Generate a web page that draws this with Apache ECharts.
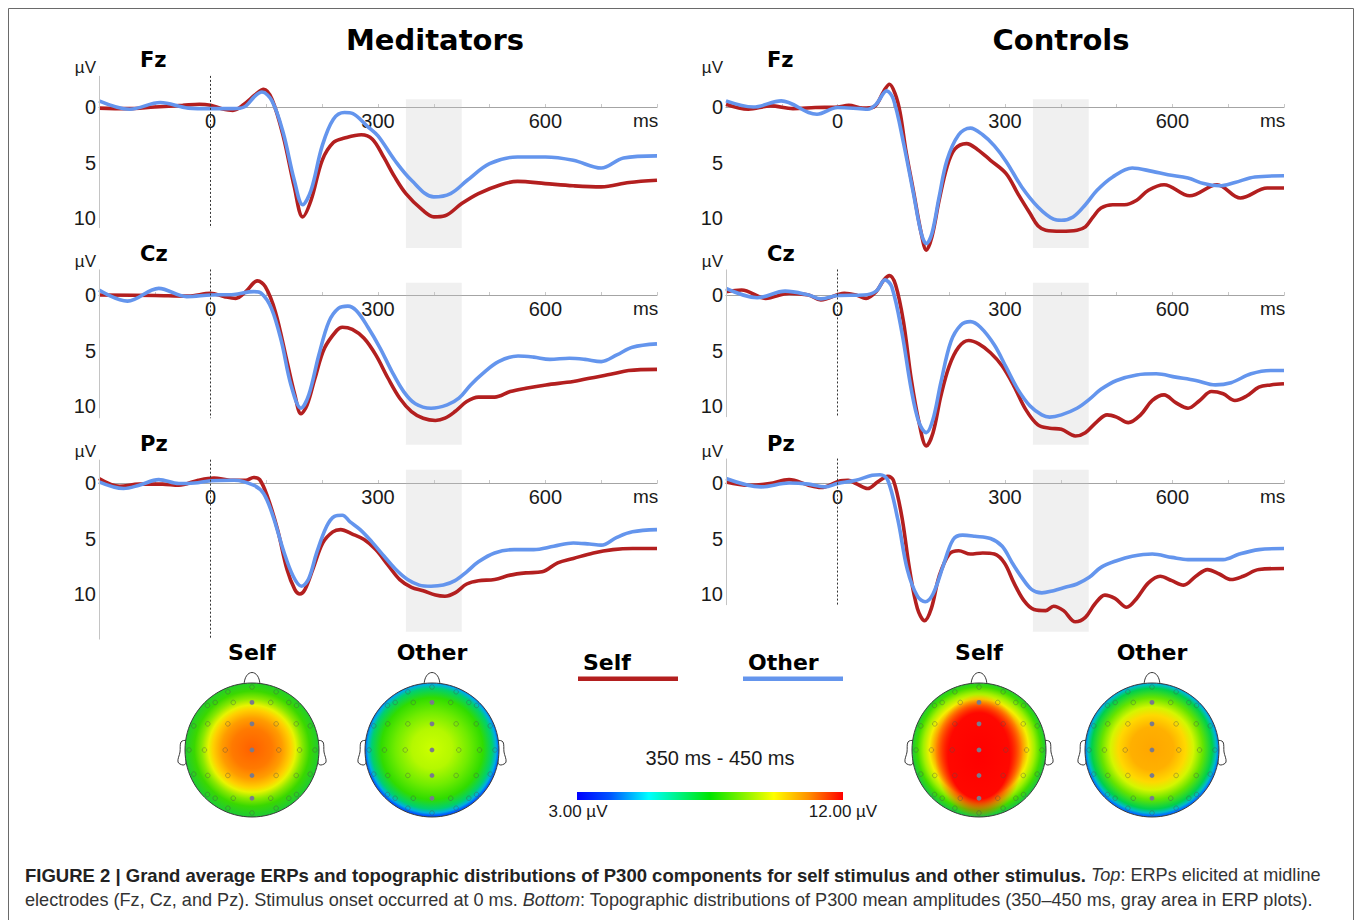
<!DOCTYPE html>
<html>
<head>
<meta charset="utf-8">
<title>Grand average ERPs and P300 topographies</title>
<script src="https://cdn.jsdelivr.net/npm/echarts@6/dist/echarts.min.js"></script>
<style>
  html, body { margin: 0; padding: 0; background: #fff; }
  #chart { width: 1358px; height: 920px; }
</style>
</head>
<body>
<div id="chart"></div>
<script>
// axes
const timeRange = [-200, 800];
const xTickLabels = [0, 300, 600];
const yTickLabels = [0, 5, 10];
const p300Window = [350, 450];
const electrodes = ['Fz', 'Cz', 'Pz'];
const groups = ['Meditators', 'Controls'];

// grand average ERPs, [ms, µV] (positive is drawn downward)
const medFzSelf = [[-200,0.1],[-150,0.15],[-100,0],[-50,-0.15],[-20,-0.25],[0,-0.15],[20,0.15],[40,0.3],[60,-0.25],[80,-1.1],[95,-1.6],[110,-0.7],[130,2.6],[150,7.2],[165,9.9],[180,8.4],[200,4.8],[220,3.2],[240,2.8],[270,2.5],[290,2.9],[310,4.5],[330,6.3],[350,7.8],[380,9.3],[400,9.9],[420,9.8],[450,8.7],[480,7.8],[520,7.0],[550,6.7],[600,6.9],[650,7.1],[700,7.2],[750,6.8],[800,6.6]];
const medFzOther = [[-200,-0.55],[-145,0.2],[-90,-0.4],[-40,0.1],[0,0.15],[40,0.15],[60,0],[80,-1.0],[92,-1.35],[110,-0.55],[130,2.3],[150,6.6],[165,8.8],[180,7.5],[200,3.5],[220,1.1],[240,0.5],[255,0.6],[280,1.7],[300,2.6],[330,4.8],[360,6.6],[400,8.1],[430,7.8],[460,6.6],[500,5.1],[550,4.5],[600,4.5],[650,4.8],[700,5.5],[740,4.6],[800,4.4]];
const medCzSelf = [[-200,0],[-100,0.05],[-40,0.1],[0,-0.15],[25,0.15],[45,0.3],[63,-0.3],[84,-1.27],[98,-0.75],[116,1.5],[137,6.0],[151,9.0],[162,10.7],[173,9.9],[187,7.5],[204,4.8],[226,3.2],[236,2.9],[254,3.1],[275,3.9],[296,5.4],[318,7.5],[339,9.3],[360,10.5],[381,11.1],[403,11.3],[420,11.1],[438,10.5],[459,9.6],[480,9.2],[509,9.2],[537,8.7],[565,8.4],[601,8.1],[650,7.8],[679,7.5],[721,7.1],[749,6.8],[800,6.7]];
const medCzOther = [[-200,-0.45],[-149,0.55],[-93,-0.6],[-43,0.15],[0,0],[42,-0.05],[77,-0.3],[91,-0.15],[109,1.2],[127,4.2],[144,8.1],[162,10.2],[176,9.0],[194,5.4],[212,2.4],[229,1.2],[246,1.0],[261,1.4],[282,2.9],[304,4.8],[325,6.9],[346,8.7],[367,9.8],[395,10.2],[424,9.9],[445,9.3],[466,8.1],[487,7.1],[516,6.0],[551,5.5],[579,5.6],[608,5.8],[643,5.7],[671,5.8],[700,6.0],[728,5.4],[756,4.7],[800,4.4]];
const medPzSelf = [[-200,-0.4],[-163,0.3],[-128,0.1],[-86,0.1],[-57,0.2],[-22,-0.25],[6,-0.45],[35,-0.25],[63,-0.25],[77,-0.5],[88,-0.3],[102,1.25],[120,4.2],[137,7.8],[151,9.6],[160,10.0],[169,9.6],[183,7.8],[201,5.4],[219,4.4],[233,4.2],[254,4.6],[275,5.1],[296,6.0],[318,7.4],[339,8.7],[360,9.4],[381,9.7],[403,10.1],[420,10.2],[438,9.9],[459,9.1],[480,8.8],[509,8.7],[537,8.3],[565,8.1],[594,8.0],[622,7.2],[650,6.8],[686,6.3],[721,6.0],[756,5.9],[800,5.9]];
const medPzOther = [[-200,-0.1],[-156,0.5],[-128,0.2],[-93,-0.3],[-57,0.05],[-29,0],[0,-0.2],[42,-0.25],[77,0.2],[95,0.95],[112,3.0],[130,6.0],[148,8.4],[163,9.3],[176,8.6],[190,6.3],[208,3.9],[222,3.0],[236,2.9],[250,3.5],[268,4.2],[289,5.3],[311,6.6],[332,7.8],[353,8.7],[374,9.2],[395,9.3],[417,9.2],[438,8.8],[459,8.0],[480,7.1],[509,6.3],[544,6.0],[579,6.0],[615,5.7],[650,5.4],[679,5.5],[700,5.6],[728,4.9],[756,4.4],[800,4.2]];

const conFzSelf = [[-200,-0.25],[-160,0.2],[-120,-0.1],[-80,0.15],[-40,0.05],[0,0],[20,-0.15],[45,0.1],[65,0],[83,-1.45],[93,-2.05],[103,-1.2],[112,0.5],[122,3.8],[136,7.6],[150,11.4],[159,12.9],[169,11.7],[182,8.4],[196,5.4],[210,3.8],[231,3.3],[250,3.8],[274,4.8],[302,6.0],[323,7.8],[345,9.6],[359,10.7],[373,11.1],[401,11.2],[429,11.1],[444,10.8],[458,9.9],[472,9.1],[493,8.8],[514,8.8],[536,8.4],[557,7.5],[585,7.0],[631,8.0],[680,7.0],[722,8.2],[770,7.3],[800,7.3]];
const conFzOther = [[-200,-0.55],[-151,0],[-101,-0.55],[-52,0.5],[-37,0.65],[0,0.05],[40,0.15],[54,0.2],[69,-0.25],[88,-1.45],[100,-0.7],[118,3.2],[136,7.8],[150,11.4],[159,12.3],[169,11.4],[182,8.1],[196,4.8],[217,2.5],[238,1.9],[260,2.5],[281,3.5],[302,4.9],[330,7.2],[359,9.0],[387,10.1],[401,10.2],[422,9.9],[444,8.8],[465,7.5],[493,6.3],[528,5.5],[564,5.8],[592,6.1],[628,6.4],[656,6.9],[684,7.1],[712,6.8],[748,6.3],[800,6.2]];
const conCzSelf = [[-200,-0.3],[-172,-0.45],[-129,0.3],[-87,-0.15],[-52,0],[-30,0.45],[12,-0.15],[33,0],[51,0.3],[69,-0.3],[83,-1.36],[93,-1.75],[104,-0.9],[118,2.4],[132,7.6],[146,11.5],[159,13.6],[171,12.4],[185,9.1],[200,6.4],[217,4.7],[235,4.1],[253,4.4],[274,5.2],[295,6.4],[316,8.2],[337,10.3],[359,11.7],[380,12.0],[401,12.1],[426,12.7],[444,12.4],[465,11.4],[483,10.8],[500,11.0],[521,11.5],[543,10.8],[564,9.5],[585,9.0],[606,9.7],[628,10.2],[649,9.5],[670,8.7],[691,8.9],[712,9.5],[733,9.1],[755,8.3],[776,8.1],[800,8.0]];
const conCzOther = [[-200,-0.6],[-144,0.25],[-94,-0.35],[-52,0],[-30,0.35],[0,0.05],[47,0],[69,-0.35],[85,-1.36],[97,-0.75],[115,3.3],[132,8.5],[146,11.5],[159,12.4],[171,11.2],[185,7.9],[203,4.2],[221,2.7],[238,2.4],[256,2.9],[281,4.5],[302,6.5],[323,8.5],[345,10.0],[366,10.8],[380,11.0],[401,10.8],[429,10.2],[451,9.4],[472,8.5],[500,7.7],[536,7.2],[571,7.1],[606,7.4],[642,7.7],[677,8.1],[705,7.9],[741,7.1],[776,6.8],[800,6.8]];
const conPzSelf = [[-200,-0.1],[-158,0.2],[-122,0.05],[-87,-0.3],[-52,0.2],[-30,0.4],[5,-0.2],[19,-0.25],[33,0.05],[54,0.5],[72,-0.1],[90,-0.6],[100,-0.25],[115,3.0],[129,7.8],[143,11.3],[156,12.4],[168,11.3],[182,8.4],[200,6.4],[217,6.1],[238,6.4],[260,6.3],[281,6.4],[299,7.2],[316,9.0],[334,10.6],[352,11.4],[373,11.5],[387,11.1],[405,11.5],[426,12.5],[444,12.1],[461,10.9],[479,10.1],[497,10.4],[518,11.2],[536,10.4],[557,9.0],[578,8.4],[599,8.8],[620,9.2],[642,8.4],[663,7.8],[684,8.2],[705,8.7],[727,8.4],[755,7.8],[800,7.7]];
const conPzOther = [[-200,-0.4],[-137,0.35],[-87,0],[-52,0.1],[-23,0.35],[0,0.05],[33,-0.25],[62,-0.7],[76,-0.75],[90,-0.25],[108,3.3],[125,7.8],[143,10.2],[157,10.7],[171,10.0],[189,7.5],[207,5.1],[224,4.7],[246,4.8],[274,5.0],[295,5.7],[313,7.2],[330,8.5],[348,9.6],[366,9.9],[387,9.7],[408,9.4],[429,9.1],[451,8.5],[472,7.6],[500,7.0],[528,6.6],[564,6.4],[599,6.7],[628,6.9],[663,6.9],[691,6.9],[720,6.4],[755,6.0],[800,5.9]];

const erp = {
  Meditators: { Fz: [medFzSelf, medFzOther], Cz: [medCzSelf, medCzOther], Pz: [medPzSelf, medPzOther] },
  Controls:   { Fz: [conFzSelf, conFzOther], Cz: [conCzSelf, conCzOther], Pz: [conPzSelf, conPzOther] }
};

// layout
const RED = '#b31f1f', BLUE = '#6495ed';
const LEFT = [99, 726], WIDTH = 558, ZERO_Y = [107, 295, 483], PX = 11.1;
const Y_MIN = -3, Y_MAX = 14.5;
const axisSpan = [[[-2.8, 10.9], [-3.1, 10.9]], [[-2.3, 11.1], [-2.3, 11.0]], [[-2.1, 14.1], [-2.2, 11.0]]];
const bandSpan = [[-0.7, 12.7], [-1.1, 13.5], [-1.2, 13.4]];
const LABEL_FONT = 'Liberation Sans';
const BOLD_FONT = 'DejaVu Sans';

const chart = echarts.init(document.getElementById('chart'), null, { renderer: 'svg' });

function radial(cx, cy, stops) {
  return { type: 'radial', x: cx, y: cy, r: 0.5, colorStops: stops.map(([o, c]) => ({ offset: o, color: c })) };
}

const grid = [], xAxis = [], yAxis = [], series = [];
let idx = 0;
groups.forEach((g, col) => {
  electrodes.forEach((el, row) => {
    const i = idx++;
    grid.push({ left: LEFT[col], top: ZERO_Y[row] + Y_MIN * PX, width: WIDTH, height: (Y_MAX - Y_MIN) * PX });
    xAxis.push({
      gridIndex: i, type: 'value', min: timeRange[0], max: timeRange[1], interval: 100,
      axisLine: { onZero: true, lineStyle: { color: '#a4a4a4', width: 1.2 } },
      axisTick: { show: true, inside: true, length: 3, lineStyle: { color: '#c8c8c8' } },
      axisLabel: {
        customValues: xTickLabels.concat([timeRange[1]]),
        formatter: v => v === timeRange[1] ? '{ms|ms}' : String(v),
        fontSize: 20, color: '#1a1a1a', fontFamily: LABEL_FONT,
        // labels sit just under the zero line, not at the grid bottom
        margin: 4 - Y_MAX * PX,
        rich: { ms: { fontSize: 19, width: 48, align: 'left', color: '#1a1a1a', fontFamily: LABEL_FONT } }
      },
      splitLine: { show: false }
    });
    yAxis.push({
      gridIndex: i, type: 'value', inverse: true, min: Y_MIN, max: Y_MAX,
      axisLine: { show: false }, axisTick: { show: false }, splitLine: { show: false },
      axisLabel: { customValues: yTickLabels, fontSize: 20, color: '#1a1a1a', fontFamily: LABEL_FONT, margin: 3 }
    });
    const [a0, a1] = axisSpan[row][col];
    const axisStyle = { color: '#c4c4c4', width: 1, type: 'solid' };
    const onsetStyle = { color: '#333', width: 1, type: [2, 2] };
    series.push({
      type: 'line', xAxisIndex: i, yAxisIndex: i, data: [], z: 1, silent: true,
      markLine: {
        silent: true, symbol: ['none', 'none'], label: { show: false }, animation: false,
        data: [
          [{ coord: [timeRange[0], a0], lineStyle: axisStyle }, { coord: [timeRange[0], a1], lineStyle: axisStyle }],
          [{ coord: [0, a0], lineStyle: onsetStyle }, { coord: [0, a1], lineStyle: onsetStyle }]
        ]
      }
    });
    const [self, other] = erp[g][el];
    [[self, RED, 'Self'], [other, BLUE, 'Other']].forEach(([d, c, n]) => {
      series.push({
        name: n, type: 'line', xAxisIndex: i, yAxisIndex: i, data: d, z: 2,
        smooth: 0.35, showSymbol: false, symbol: 'none', clip: false,
        lineStyle: { color: c, width: 3.6 }
      });
    });
    series.push({
      type: 'line', xAxisIndex: i, yAxisIndex: i, data: [], z: 5, silent: true,
      markArea: {
        silent: true, itemStyle: { color: 'rgba(196,196,196,0.26)' },
        data: [[{ xAxis: p300Window[0], yAxis: bandSpan[row][0] }, { xAxis: p300Window[1], yAxis: bandSpan[row][1] }]]
      }
    });
  });
});

// ---- graphic parts: titles, legend, scalp maps, caption
const graphic = [];
function text(x, y, t, font, align, fill) {
  graphic.push({ type: 'text', x, y, silent: true,
    style: { text: t, font, fill: fill || '#000', align: align || 'left', verticalAlign: 'middle' } });
}
graphic.push({ type: 'rect', silent: true, shape: { x: 8.5, y: 8.5, width: 1345, height: 930 },
  style: { fill: 'none', stroke: '#6a6a6a', lineWidth: 1 } });

text(435, 40, 'Meditators', `bold 29px "${BOLD_FONT}"`, 'center');
text(1061, 40, 'Controls', `bold 29px "${BOLD_FONT}"`, 'center');
const nameY = [60, 254, 444], unitY = [67, 261, 451];
[0, 1].forEach(col => {
  electrodes.forEach((el, row) => {
    text(LEFT[col] + 41, nameY[row], el, `bold 21px "${BOLD_FONT}"`);
    text(LEFT[col] - 3, unitY[row], 'µV', `17px "${LABEL_FONT}"`, 'right', '#1a1a1a');
  });
});

// scalp maps (colours)
const topoMaps = [
  { title: 'Self',  cx: 252,  stops: [[0,'#ff6000'],[0.3,'#ff7a00'],[0.45,'#ff9c00'],[0.58,'#ffd000'],[0.65,'#e8f400'],[0.75,'#88e800'],[0.86,'#3ad800'],[1,'#20cc30']] },
  { title: 'Other', cx: 432,  stops: [[0,'#ccff00'],[0.3,'#b4f800'],[0.55,'#70ec00'],[0.76,'#30dc00'],[0.9,'#00d070'],[0.96,'#00b0e0'],[1,'#0058ff']] },
  { title: 'Self',  cx: 979,  stops: [[0,'#ff0000'],[0.48,'#ff1a00'],[0.64,'#ff9000'],[0.74,'#f4f000'],[0.83,'#a0f000'],[0.92,'#40dc00'],[1,'#1ec83c']], core: true },
  { title: 'Other', cx: 1152, stops: [[0,'#ffa600'],[0.32,'#ffb000'],[0.5,'#ffd800'],[0.62,'#d4f600'],[0.76,'#64e400'],[0.9,'#00d04c'],[0.96,'#00bcc8'],[1,'#0070ff']] }
];
const HEAD_Y = 750, HEAD_R = 67;
const innerSites = [
  [-0.55,-0.71],[-0.28,-0.71],[0.28,-0.71],[0.55,-0.71],
  [-0.66,-0.39],[-0.36,-0.39],[0.36,-0.39],[0.66,-0.39],
  [-0.71,0],[-0.40,0],[0.40,0],[0.71,0],
  [-0.66,0.38],[-0.36,0.38],[0.36,0.38],[0.66,0.38],
  [-0.55,0.72],[-0.28,0.72],[0.28,0.72],[0.55,0.72]
];
const midlineSites = [-0.71, -0.39, 0, 0.38, 0.72];
const ringAngles = [0, 22.5, 45, 67.5, 90, 112.5, 135, 157.5, 180, 202.5, 225, 247.5, 270, 292.5, 315, 337.5];

topoMaps.forEach(m => {
  const cx = m.cx, cy = HEAD_Y, r = HEAD_R;
  const outline = { stroke: '#3a3a3a', lineWidth: 1 };
  text(cx, 652, m.title, `bold 22px "${BOLD_FONT}"`, 'center');
  // nose
  graphic.push({ type: 'bezierCurve', silent: true,
    shape: { x1: cx - 8, y1: cy - r + 3, cpx1: cx - 8, cpy1: cy - r - 15, cpx2: cx + 8, cpy2: cy - r - 15, x2: cx + 8, y2: cy - r + 3 },
    style: Object.assign({ fill: '#fff' }, outline) });
  // ears
  [-1, 1].forEach(s => {
    const ex = cx + s * (r - 1);
    graphic.push({ type: 'polygon', silent: true,
      shape: { smooth: 0.35, points: [[ex, cy - 9], [ex + s * 5, cy - 8], [ex + s * 6, cy + 2], [ex + s * 8, cy + 12], [ex + s * 3, cy + 15], [ex, cy + 13]] },
      style: Object.assign({ fill: '#fff' }, outline) });
  });
  graphic.push({ type: 'circle', silent: true, shape: { cx, cy, r },
    style: { fill: radial(0.5, 0.49, m.stops) } });
  if (m.core) {
    graphic.push({ type: 'circle', silent: true, x: cx, y: cy + 6, scaleY: 1.4, shape: { cx: 0, cy: 0, r: 44 },
      style: { fill: radial(0.5, 0.5, [[0, 'rgba(255,0,0,1)'], [0.7, 'rgba(255,8,0,1)'], [1, 'rgba(255,80,0,0)']]) } });
  }
  const sites = innerSites.concat(ringAngles.map(a => [0.94 * Math.sin(a * Math.PI / 180), -0.94 * Math.cos(a * Math.PI / 180)]));
  sites.forEach(([ux, uy]) => {
    graphic.push({ type: 'circle', silent: true, shape: { cx: cx + ux * r, cy: cy + uy * r, r: 2.3 },
      style: { fill: 'none', stroke: 'rgba(80,80,80,0.5)', lineWidth: 0.8 } });
  });
  midlineSites.forEach(uy => {
    graphic.push({ type: 'circle', silent: true, shape: { cx, cy: cy + uy * r, r: 2.4 }, style: { fill: '#7a7a8c' } });
  });
  graphic.push({ type: 'circle', silent: true, shape: { cx, cy, r }, style: Object.assign({ fill: 'none' }, outline) });
});

// legend
text(583, 662, 'Self', `bold 22px "${BOLD_FONT}"`);
text(748, 662, 'Other', `bold 22px "${BOLD_FONT}"`);
graphic.push({ type: 'rect', silent: true, shape: { x: 578, y: 676.5, width: 100, height: 4.5 }, style: { fill: RED } });
graphic.push({ type: 'rect', silent: true, shape: { x: 743, y: 676.5, width: 100, height: 4.5 }, style: { fill: BLUE } });

// colour scale
text(720, 758, '350 ms - 450 ms', `20px "${LABEL_FONT}"`, 'center', '#1a1a1a');
graphic.push({ type: 'rect', silent: true, shape: { x: 577, y: 792, width: 266, height: 8 },
  style: { fill: { type: 'linear', x: 0, y: 0, x2: 1, y2: 0, colorStops: [
    { offset: 0, color: '#0000ff' }, { offset: 0.12, color: '#0050ff' }, { offset: 0.27, color: '#00ffff' },
    { offset: 0.5, color: '#00e400' }, { offset: 0.74, color: '#ffff00' }, { offset: 0.87, color: '#ff9000' },
    { offset: 1, color: '#ff0000' }] } } });
text(578, 811, '3.00 µV', `17px "${LABEL_FONT}"`, 'center', '#1a1a1a');
text(843, 811, '12.00 µV', `17px "${LABEL_FONT}"`, 'center', '#1a1a1a');

// caption
const capRich = {
  b: { fontFamily: LABEL_FONT, fontSize: 18.5, fontWeight: 'bold', fill: '#222' },
  n: { fontFamily: LABEL_FONT, fontSize: 18.1, fill: '#333' },
  i: { fontFamily: LABEL_FONT, fontSize: 18.1, fontStyle: 'italic', fill: '#333' }
};
graphic.push({ type: 'text', x: 25, y: 875, silent: true, style: { verticalAlign: 'middle', rich: capRich,
  text: '{b|FIGURE 2 | Grand average ERPs and topographic distributions of P300 components for self stimulus and other stimulus.}{n| }{i|Top}{n|: ERPs elicited at midline}' } });
graphic.push({ type: 'text', x: 25, y: 900, silent: true, style: { verticalAlign: 'middle', rich: capRich,
  text: '{n|electrodes (Fz, Cz, and Pz). Stimulus onset occurred at 0 ms. }{i|Bottom}{n|: Topographic distributions of P300 mean amplitudes (350–450 ms, gray area in ERP plots).}' } });

chart.setOption({
  animation: false,
  backgroundColor: '#fff',
  grid, xAxis, yAxis, series, graphic
});
</script>
</body>
</html>
